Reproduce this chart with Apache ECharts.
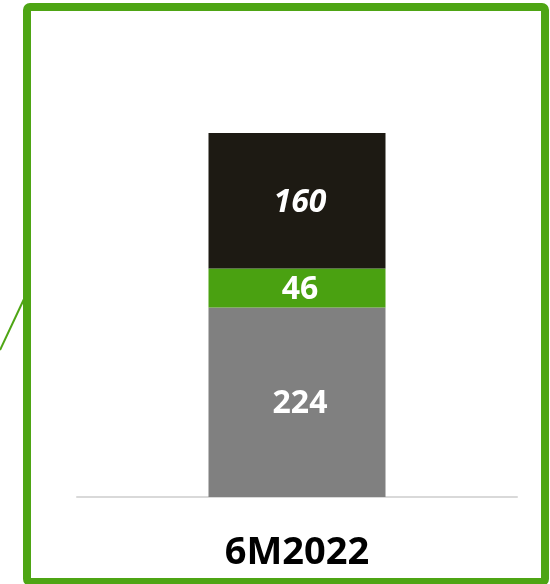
<!DOCTYPE html>
<html>
<head>
<meta charset="utf-8">
<script src="https://cdn.jsdelivr.net/npm/echarts@6/dist/echarts.min.js"></script>
<style>
  html, body { margin: 0; padding: 0; background: #fff; }
  #chart { width: 550px; height: 584px; }
</style>
</head>
<body>
<div id="chart"></div>
<script>
// 数据
const categories = ['6M2022'];
const bottomValues = [224];
const middleValues = [46];
const topValues = [160];

const myChart = echarts.init(document.getElementById('chart'));

const labelBase = {
  show: true,
  position: 'inside',
  offset: [3, 2],
  color: '#ffffff',
  fontFamily: 'Noto Sans',
  fontWeight: 'bold',
  fontSize: 32
};

const option = {
  animation: false,
  grid: {
    left: 77,
    right: 33,
    top: 133,
    bottom: 87
  },
  xAxis: {
    type: 'category',
    data: categories,
    axisLine: {
      show: true,
      lineStyle: { color: '#d9d9d9', width: 2 }
    },
    axisTick: { show: false },
    axisLabel: {
      margin: 37,
      color: '#000000',
      fontFamily: 'Noto Sans',
      fontWeight: 'bold',
      fontSize: 38
    }
  },
  yAxis: {
    type: 'value',
    min: 0,
    max: 'dataMax',
    show: false,
    splitLine: { show: false }
  },
  series: [
    {
      type: 'bar',
      stack: 'total',
      barWidth: 177,
      data: bottomValues,
      itemStyle: { color: '#808080' },
      label: labelBase
    },
    {
      type: 'bar',
      stack: 'total',
      barWidth: 177,
      data: middleValues,
      itemStyle: { color: '#4aa111' },
      label: labelBase
    },
    {
      type: 'bar',
      stack: 'total',
      barWidth: 177,
      data: topValues,
      itemStyle: { color: '#1d1a13' },
      label: Object.assign({}, labelBase, { fontStyle: 'italic' })
    }
  ],
  // 外框和引线
  graphic: [
    {
      type: 'rect',
      shape: { x: 27, y: 7, width: 518, height: 575, r: 3 },
      style: { fill: 'none', stroke: '#4ea514', lineWidth: 8 },
      z: 10
    },
    {
      type: 'line',
      shape: { x1: 0, y1: 350, x2: 24, y2: 299 },
      style: { stroke: '#4ea514', lineWidth: 2 },
      z: 10
    }
  ]
};

myChart.setOption(option);
</script>
</body>
</html>
